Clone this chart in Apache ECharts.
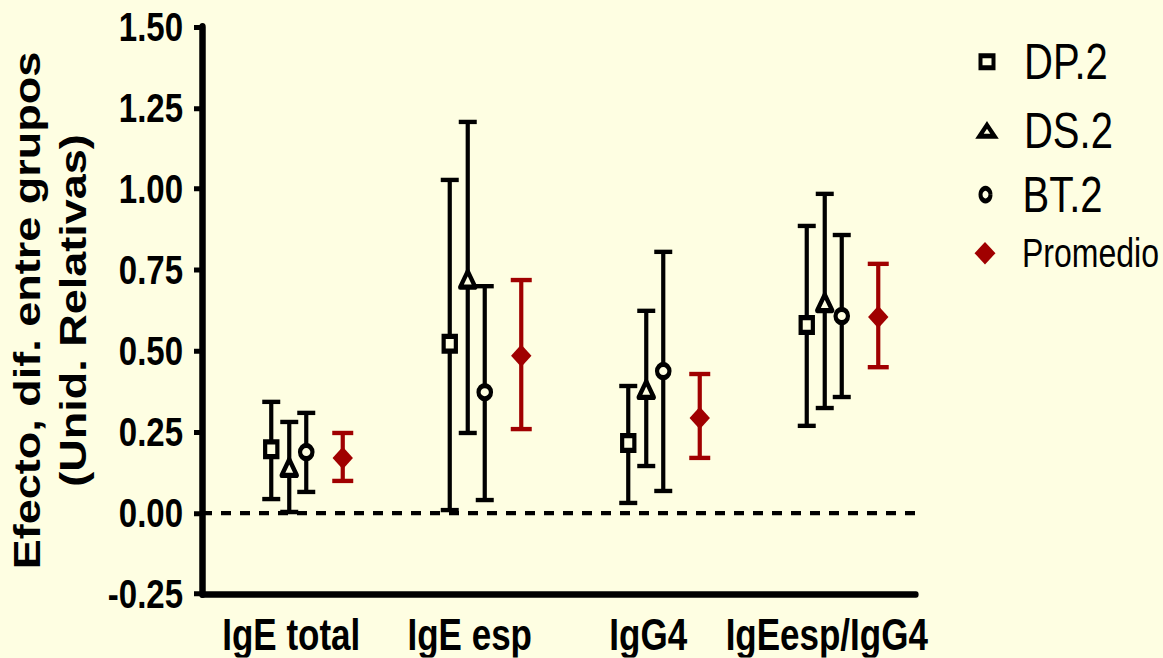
<!DOCTYPE html>
<html>
<head>
<meta charset="utf-8">
<script src="https://cdn.jsdelivr.net/npm/echarts@6/dist/echarts.min.js"></script>
<style>
  html, body { margin: 0; padding: 0; background: #FEFEE2; width: 1163px; height: 658px; overflow: hidden; }
  #wrap { position: relative; width: 1163px; height: 658px; overflow: visible; }
  #chart { position: absolute; left: 0; top: 0; width: 1163px; height: 526.4px; transform: scaleY(1.25); transform-origin: 0 0; }
</style>
</head>
<body>
<div id="wrap"><div id="chart"></div></div>
<script>
// ---- data ----
const categories = ['IgE total', 'IgE esp', 'IgG4', 'IgEesp/IgG4'];
const yTicks = { min: -0.25, max: 1.5, interval: 0.25 };

const dpMean = [0.197, 0.522, 0.216, 0.580];
const dpLow  = [0.043, 0.009, 0.031, 0.269];
const dpHigh = [0.343, 1.028, 0.392, 0.886];

const dsMean = [0.139, 0.720, 0.380, 0.648];
const dsLow  = [0.003, 0.247, 0.145, 0.324];
const dsHigh = [0.281, 1.207, 0.624, 0.985];

const btMean = [0.188, 0.373, 0.438, 0.608];
const btLow  = [0.065, 0.040, 0.068, 0.358];
const btHigh = [0.309, 0.700, 0.806, 0.858];

const prMean = [0.170, 0.485, 0.293, 0.605];
const prLow  = [0.099, 0.259, 0.170, 0.450];
const prHigh = [0.247, 0.719, 0.429, 0.769];

// ---- styles ----
const BG = '#FEFEE2';
const RED = '#A00000';
const FONT = 'Arial, "Liberation Sans", Helvetica, sans-serif';

function rows(mean, low, high) {
  return mean.map((m, i) => [i, m, low[i], high[i]]);
}

function makeRender(shape, color, offset, capW) {
  return function (params, api) {
    const xi = api.value(0);
    const c = api.coord([xi, api.value(1)]);
    const lo = api.coord([xi, api.value(2)]);
    const hi = api.coord([xi, api.value(3)]);
    const x = c[0] + offset;
    const y = c[1];
    const barStyle = { stroke: color, lineWidth: 4.2, lineCap: 'butt' };
    const capStyle = { stroke: color, lineWidth: 3.5, lineCap: 'butt' };
    const children = [
      { type: 'line', shape: { x1: x, y1: hi[1], x2: x, y2: lo[1] }, style: barStyle },
      { type: 'line', shape: { x1: x - capW / 2, y1: hi[1], x2: x + capW / 2, y2: hi[1] }, style: capStyle },
      { type: 'line', shape: { x1: x - capW / 2, y1: lo[1], x2: x + capW / 2, y2: lo[1] }, style: capStyle }
    ];
    const hollow = { fill: BG, stroke: '#000', lineWidth: 4.2, lineJoin: 'miter' };
    if (shape === 'square') {
      children.push({ type: 'rect', shape: { x: x - 6.1, y: y - 5.9, width: 12.2, height: 11.8 }, style: hollow });
    } else if (shape === 'triangle') {
      children.push({ type: 'polygon', shape: { points: [[x, y - 6.8], [x + 7.6, y + 6], [x - 7.6, y + 6]] }, style: Object.assign({}, hollow, { lineJoin: 'round' }) });
    } else if (shape === 'circle') {
      children.push({ type: 'ellipse', shape: { cx: x, cy: y, rx: 6.2, ry: 5.3 }, style: hollow });
    } else if (shape === 'diamond') {
      children.push({ type: 'polygon', shape: { points: [[x, y - 9], [x + 10.2, y], [x, y + 9], [x - 10.2, y]] }, style: { fill: color } });
    }
    return { type: 'group', children: children };
  };
}

const chart = echarts.init(document.getElementById('chart'), null, { renderer: 'svg', width: 1163, height: 526.4 });

function legendFor(name, icon, style, left, top, w, h, fs, pad) {
  return {
    orient: 'vertical', left: left, top: top, itemWidth: w, itemHeight: h,
    symbolKeepAspect: false, selectedMode: false, padding: 0,
    data: [{ name: name, icon: icon, itemStyle: style }],
    textStyle: { fontSize: fs, color: '#000', fontFamily: FONT, padding: [0, 0, 0, pad] }
  };
}
const hollowIcon = { color: BG, borderColor: '#000', borderWidth: 4 };

const option = {
  backgroundColor: BG,
  animation: false,
  grid: { left: 202, right: 247, top: 21.6, bottom: 51.2, containLabel: false, outerBoundsMode: 'none' },
  legend: [
    legendFor('DP.2', 'rect', hollowIcon, 978.5, 29.3, 13, 9.6, 40, 25.5),
    legendFor('DS.2', 'triangle', hollowIcon, 977.5, 84.5, 15, 9, 40, 24.5),
    legendFor('BT.2', 'circle', hollowIcon, 978.5, 135.7, 13, 10, 40, 25.5),
    legendFor('Promedio', 'diamond', { color: RED, borderWidth: 0 }, 974.5, 186.5, 21, 18, 32, 21.5)
  ],
  xAxis: {
    type: 'category',
    data: categories,
    boundaryGap: true,
    axisLine: { onZero: false, lineStyle: { color: '#000', width: 5.2 } },
    axisTick: { alignWithLabel: true, length: 6, lineStyle: { color: '#000', width: 5 } },
    axisLabel: { color: '#000', fontSize: 35, fontWeight: 'bold', fontFamily: FONT, margin: 15, interval: 0 },
    splitLine: { show: false }
  },
  yAxis: {
    type: 'value',
    min: yTicks.min, max: yTicks.max, interval: yTicks.interval,
    name: 'Efecto, dif. entre grupos\n(Unid. Relativas)',
    nameLocation: 'middle',
    nameGap: 80,
    nameTextStyle: { color: '#000', fontSize: 36, fontWeight: 'bold', fontFamily: FONT, lineHeight: 46, align: 'center' },
    axisLine: { show: true, lineStyle: { color: '#000', width: 6.5 } },
    axisTick: { show: true, length: 8, lineStyle: { color: '#000', width: 4 } },
    axisLabel: { color: '#000', fontSize: 33, fontWeight: 'bold', fontFamily: FONT, margin: 19,
      formatter: v => v.toFixed(2) },
    splitLine: { show: false }
  },
  series: [
    {
      name: 'DP.2', type: 'custom', renderItem: makeRender('square', '#000', -20, 18),
      data: rows(dpMean, dpLow, dpHigh), encode: { x: 0, y: [1, 2, 3] }, z: 3, clip: false,
      itemStyle: { color: '#000' },
      markLine: {
        silent: true, symbol: 'none', animation: false,
        label: { show: false },
        lineStyle: { color: '#000', width: 3.4, type: [10, 9] },
        data: [{ yAxis: 0 }]
      }
    },
    {
      name: 'DS.2', type: 'custom', renderItem: makeRender('triangle', '#000', -2, 18),
      data: rows(dsMean, dsLow, dsHigh), encode: { x: 0, y: [1, 2, 3] }, z: 3, clip: false,
      itemStyle: { color: '#000' }
    },
    {
      name: 'BT.2', type: 'custom', renderItem: makeRender('circle', '#000', 15, 18),
      data: rows(btMean, btLow, btHigh), encode: { x: 0, y: [1, 2, 3] }, z: 3, clip: false,
      itemStyle: { color: '#000' }
    },
    {
      name: 'Promedio', type: 'custom', renderItem: makeRender('diamond', RED, 51.5, 21),
      data: rows(prMean, prLow, prHigh), encode: { x: 0, y: [1, 2, 3] }, z: 3, clip: false,
      itemStyle: { color: RED }
    }
  ]
};
chart.setOption(option);
</script>
</body>
</html>
